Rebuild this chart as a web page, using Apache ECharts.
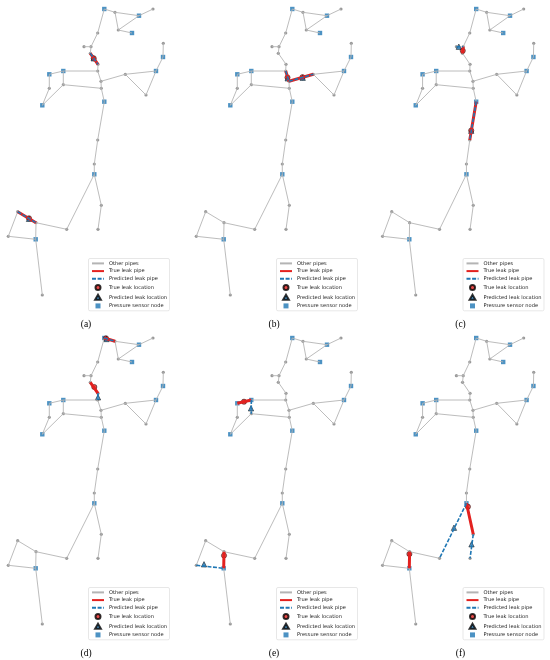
<!DOCTYPE html>
<html>
<head>
<meta charset="utf-8">
<script src="https://cdn.jsdelivr.net/npm/echarts@6/dist/echarts.min.js"></script>
<style>
html,body{margin:0;padding:0;background:#fff}
#main{width:550px;height:660px}
</style>
</head>
<body>
<div id="main"></div>
<script>
// junction layout (x right, y down)
var nodeX = [104.3,115,139,153,118.3,132,97.7,91,84,90.3,98,97.7,63.3,49.3,49.3,42.3,63.3,101,101.3,104.3,125.3,156,163,163.3,146,97.7,94.3,94.3,101.3,98,66.7,36,17.7,8.3,35.7,42.3];
var nodeY = [9,12.3,15.7,9,30,33,33,46.7,46.7,53.3,64.3,71,71,74.3,88.3,105.3,84.7,81.3,88.3,101.7,74.3,71,57,43.3,95,140,164,174.3,205.3,229.3,229.3,222.7,211.7,236.3,239.3,295];
var sensors = [0,2,5,12,13,15,19,21,22,27,34];
var pipes = [[0,1],[1,2],[2,3],[1,4],[4,2],[4,5],[0,6],[6,7],[7,8],[7,9],[9,10],[10,11],
  [11,12],[12,16],[16,15],[15,14],[14,13],[13,12],[11,17],[17,18],[16,18],[17,20],[20,21],
  [20,24],[24,21],[21,22],[22,23],[18,19],[19,25],[25,26],[26,27],[27,28],[28,29],[27,30],
  [30,31],[31,32],[32,33],[33,34],[31,34],[34,35]];

var panelLabels = ['(a)','(b)','(c)','(d)','(e)','(f)'];
var trueLeakPipes = [
  [[9,10],[32,31]],
  [[11,17],[17,20]],
  [[7,9],[19,25]],
  [[0,1],[9,10]],
  [[13,12],[31,34]],
  [[31,34],[27,28]]
];
var predLeakPipes = [
  [[9,10],[32,31]],
  [[11,17],[17,20]],
  [[8,7],[19,25]],
  [[0,1],[10,11]],
  [[12,16],[33,34]],
  [[27,30],[28,29]]
];
var trueLeakLoc = [
  [[93.7,58.3],[29,218.3]],
  [[99.5,77.5],[114.5,77.2]],
  [[90.5,50.7],[99.2,130.5]],
  [[106,9.3],[94.3,58]],
  [[56,72.7],[36,226.5]],
  [[35.8,225],[95.8,177.7]]
];
var predLeakLoc = [
  [[93.7,58.3],[29,218.8]],
  [[99.7,78.3],[114.7,77.7]],
  [[86.5,46.7],[99.2,130.7]],
  [[106.5,10],[98,68.3]],
  [[63,79.3],[16,235.3]],
  [[81.5,198.7],[99.5,215.3]]
];
var legendNames = ['Other pipes','True leak pipe','Predicted leak pipe','True leak location','Predicted leak location','Pressure sensor node'];

var RED = '#e3211f', BLUE = '#1f77b4';
var panelX = [0,188,374.5,0,188,374.5];
var panelY = [0,0,0,329,329,329];

function segs(list){
  var out = [];
  list.forEach(function(e){
    out.push([nodeX[e[0]],nodeY[e[0]]]);
    out.push([nodeX[e[1]],nodeY[e[1]]]);
    out.push(['-','-']);
  });
  return out;
}
function samePipe(a,b){ return (a[0]===b[0]&&a[1]===b[1])||(a[0]===b[1]&&a[1]===b[0]); }

// legend entries: line entries hide the centre dot, marker entries keep their aspect
var noDot = {color:'rgba(0,0,0,0)', borderWidth:0, opacity:0};
var legendData = [
  {name:legendNames[0], itemStyle:noDot},
  {name:legendNames[1], itemStyle:noDot},
  {name:legendNames[2], itemStyle:noDot},
  {name:legendNames[3], icon:'circle'},
  {name:legendNames[4], icon:'path://M5,0L10,8.66L0,8.66Z'},
  {name:legendNames[5], icon:'path://M0,0H10V10H0Z'}
];

var grids=[], xAxes=[], yAxes=[], series=[], legends=[], texts=[];
for (var p=0;p<6;p++){
  grids.push({left:panelX[p], top:panelY[p], width:180, height:310});
  xAxes.push({type:'value', gridIndex:p, min:0, max:180, show:false});
  yAxes.push({type:'value', gridIndex:p, min:0, max:310, inverse:true, show:false});
  var marked = trueLeakPipes[p].concat(predLeakPipes[p]);
  var other = pipes.filter(function(e){ return !marked.some(function(m){return samePipe(m,e);}); });
  var junctions = [];
  for (var i=0;i<nodeX.length;i++) if (sensors.indexOf(i)<0) junctions.push([nodeX[i],nodeY[i]]);
  var base = {xAxisIndex:p, yAxisIndex:p, silent:true};
  series.push(Object.assign({type:'line', name:'Other pipes', data:segs(other), symbol:'none',
    lineStyle:{color:'#b4b4b4', width:0.9}}, base));
  series.push(Object.assign({type:'line', name:'True leak pipe', data:segs(trueLeakPipes[p]), symbol:'none',
    lineStyle:{color:RED, width:3}}, base));
  series.push(Object.assign({type:'line', name:'Predicted leak pipe', data:segs(predLeakPipes[p]), symbol:'none',
    lineStyle:{color:BLUE, width:1.6, type:[4,1.6]}}, base));
  series.push(Object.assign({type:'scatter', name:'Junction', data:junctions, symbol:'circle', symbolSize:3.2,
    itemStyle:{color:'#7f7f7f'}}, base));
  series.push(Object.assign({type:'scatter', name:'Pressure sensor node', data:sensors.map(function(i){return [nodeX[i],nodeY[i]];}),
    symbol:'rect', symbolSize:4.4, itemStyle:{color:BLUE}}, base));
  series.push(Object.assign({type:'scatter', name:'True leak location', data:trueLeakLoc[p], symbol:'circle', symbolSize:5.2,
    itemStyle:{color:RED, borderColor:'#000', borderWidth:0.6}}, base));
  series.push(Object.assign({type:'scatter', name:'Predicted leak location', data:predLeakLoc[p], symbol:'triangle', symbolSize:5.4,
    itemStyle:{color:BLUE, borderColor:'#000', borderWidth:0.6}}, base));

  legends.push({
    data:legendData, selectedMode:false, orient:'vertical',
    left:panelX[p]+88.5, top:panelY[p]+258.5,
    itemWidth:12, itemHeight:5, itemGap:2.7,
    padding:[2.4,2.5,2.4,2.5],
    borderColor:'#d6d6d6', borderWidth:0.6, borderRadius:1.5,
    backgroundColor:'rgba(255,255,255,0.85)',
    textStyle:{fontSize:5.1, color:'#222', fontFamily:'DejaVu Sans'}
  });
  texts.push({type:'text', x:panelX[p]+86, y:panelY[p]+324.5,
    style:{text:panelLabels[p], align:'center', verticalAlign:'middle',
      font:'9.5px "Liberation Serif", serif', fill:'#000'}});
}

var myChart = echarts.init(document.getElementById('main'));
myChart.setOption({
  animation:false,
  grid:grids, xAxis:xAxes, yAxis:yAxes,
  legend:legends,
  series:series,
  graphic:texts
});
</script>
</body>
</html>
